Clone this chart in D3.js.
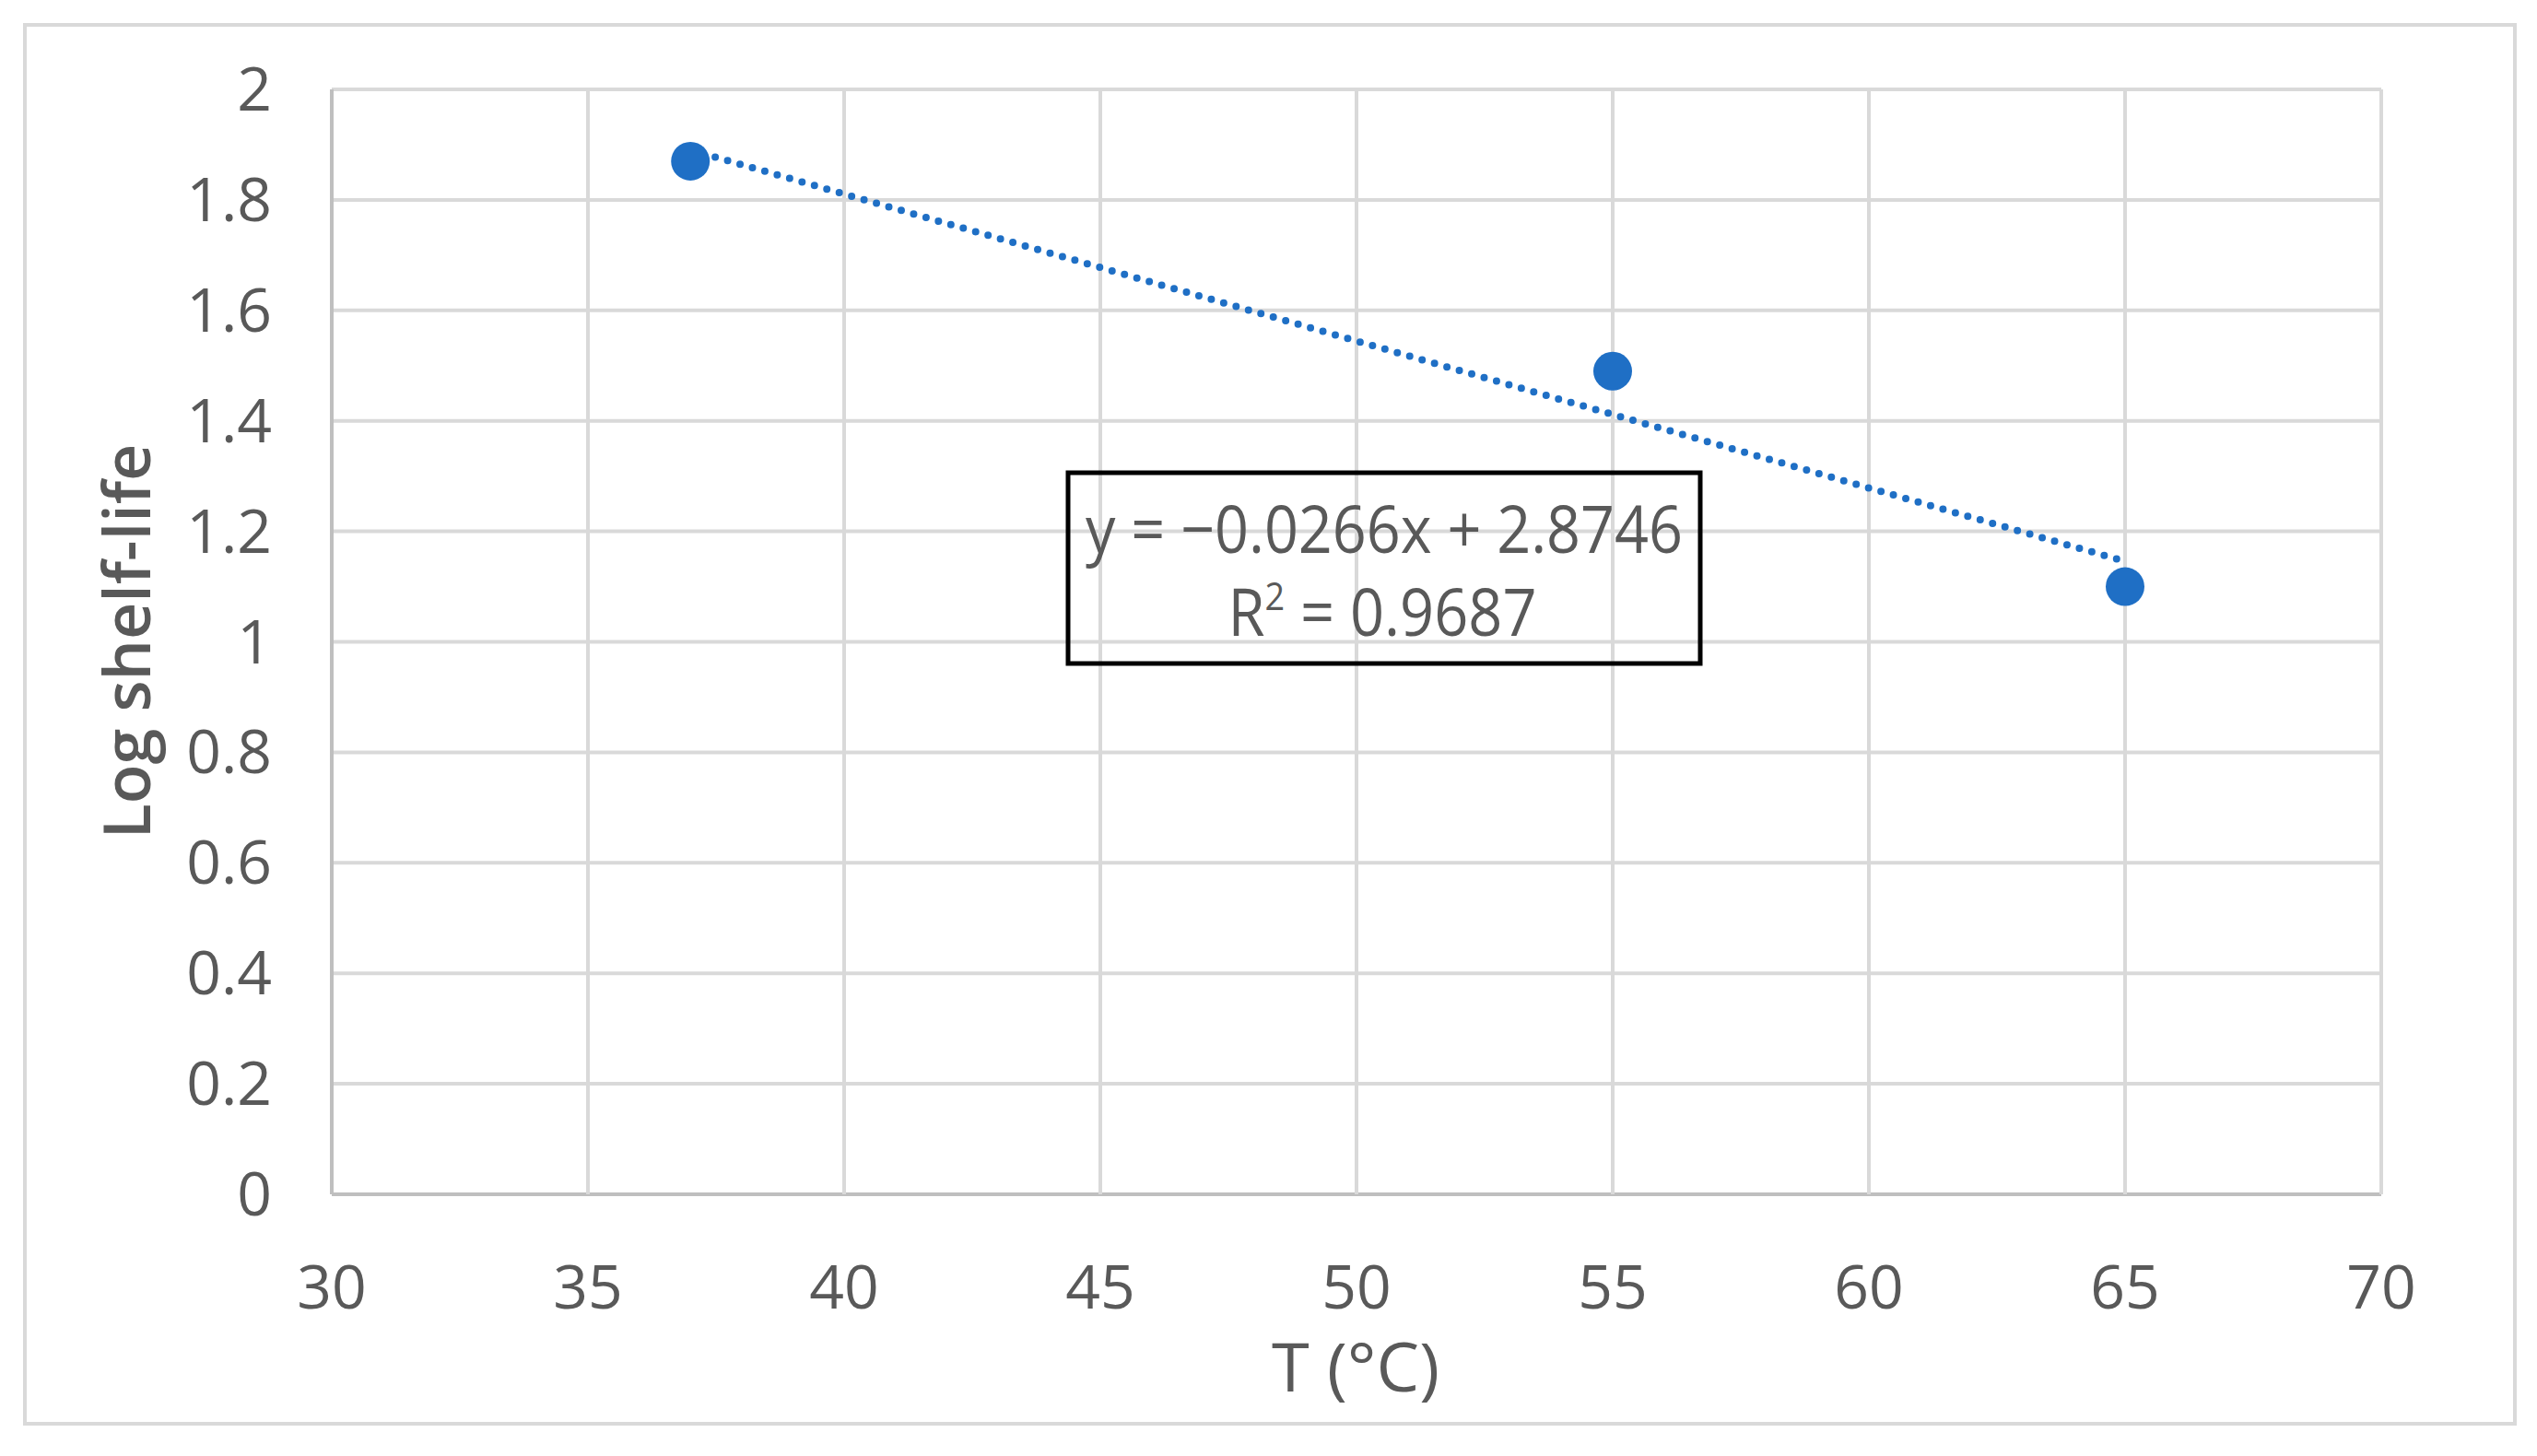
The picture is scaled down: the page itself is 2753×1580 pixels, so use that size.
<!DOCTYPE html><html><head><meta charset="utf-8">
<script src="https://cdn.jsdelivr.net/npm/d3@7"></script>
<style>body{margin:0;background:#fff}</style></head><body>
<script>
const temps=[37,55,65];
const logShelf=[1.87,1.49,1.10];
const slope=-0.0266, intercept=2.8746;
const xTicks=[30,35,40,45,50,55,60,65,70];
const yTicks=[0,0.2,0.4,0.6,0.8,1,1.2,1.4,1.6,1.8,2];
const W=2753,H=1580;
const svg=d3.select("body").append("svg").attr("width",W).attr("height",H);
const font="'Liberation Sans Narrow','Open Sans',sans-serif";
svg.append("rect").attr("x",27).attr("y",27).attr("width",2702).attr("height",1518).attr("fill","#fff").attr("stroke","#d9d9d9").attr("stroke-width",4);
const x=d3.scaleLinear().domain([30,70]).range([360,2584]);
const y=d3.scaleLinear().domain([0,2]).range([1296,97]);
svg.append("g").selectAll("line").data(yTicks).join("line").attr("x1",x(30)).attr("x2",x(70)).attr("y1",d=>y(d)).attr("y2",d=>y(d)).attr("stroke",d=>d===0?"#bfbfbf":"#d9d9d9").attr("stroke-width",4);
svg.append("g").selectAll("line").data(xTicks).join("line").attr("y1",y(0)).attr("y2",y(2)).attr("x1",d=>x(d)).attr("x2",d=>x(d)).attr("stroke",d=>d===30?"#bfbfbf":"#d9d9d9").attr("stroke-width",4);
svg.append("g").selectAll("text").data(yTicks).join("text").attr("x",x(30)-65).attr("y",d=>y(d)+23).attr("text-anchor","end").attr("font-family",font).attr("font-size",66).attr("fill","#595959").text(d=>d3.format("")(d));
svg.append("g").selectAll("text").data(xTicks).join("text").attr("x",d=>x(d)).attr("y",1420).attr("text-anchor","middle").attr("font-family",font).attr("font-size",66).attr("fill","#595959").text(d=>d);
svg.append("text").attr("x",1471).attr("y",1510).attr("text-anchor","middle").attr("font-family",font).attr("font-size",74).attr("fill","#595959").text("T (°C)");
svg.append("text").attr("transform",`translate(163,696) rotate(-90)`).attr("text-anchor","middle").attr("font-family","'Open Sans',sans-serif").attr("font-weight","600").attr("font-size",70).attr("fill","#595959").text("Log shelf-life");
svg.append("line").attr("x1",x(temps[0])).attr("x2",x(temps[2])).attr("y1",y(slope*temps[0]+intercept)).attr("y2",y(slope*temps[2]+intercept)).attr("stroke","#1f6fc5").attr("stroke-width",8).attr("stroke-dasharray","0 14").attr("stroke-linecap","round");
svg.append("g").selectAll("circle").data(temps).join("circle").attr("cx",d=>x(d)).attr("cy",(d,i)=>y(logShelf[i])).attr("r",21).attr("fill","#1f6fc5");
svg.append("rect").attr("x",1159).attr("y",513).attr("width",686).attr("height",207).attr("fill","none").attr("stroke","#000").attr("stroke-width",5);
const t1=svg.append("text").attr("x",1502).attr("y",600).attr("text-anchor","middle").attr("font-family",font).attr("font-size",72).attr("fill","#595959").attr("textLength",648).attr("lengthAdjust","spacingAndGlyphs").text("y = −0.0266x + 2.8746");
const t2=svg.append("text").attr("x",1500).attr("y",690).attr("text-anchor","middle").attr("font-family",font).attr("font-size",72).attr("fill","#595959").attr("textLength",335).attr("lengthAdjust","spacingAndGlyphs");
t2.append("tspan").text("R");t2.append("tspan").attr("font-size",42).attr("dy",-28).text("2");t2.append("tspan").attr("dy",28).text(" = 0.9687");
</script></body></html>
